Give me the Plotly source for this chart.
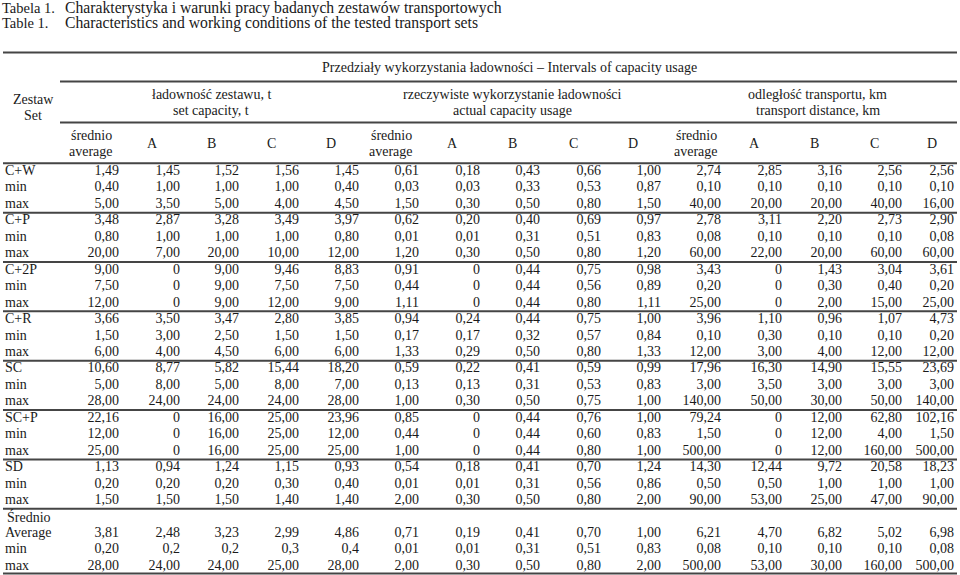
import plotly.graph_objects as go

# row labels (the "Średnio" line sits above the "Average" row)
row_labels = ["C+W", "min", "max", "C+P", "min", "max", "C+2P", "min", "max",
              "C+R", "min", "max", "SC", "min", "max", "SC+P", "min", "max",
              "SD", "min", "max", "Average", "min", "max"]

# ładowność zestawu, t / set capacity, t
cap_avg = ["1,49", "0,40", "5,00", "3,48", "0,80", "20,00", "9,00", "7,50", "12,00",
           "3,66", "1,50", "6,00", "10,60", "5,00", "28,00", "22,16", "12,00", "25,00",
           "1,13", "0,20", "1,50", "3,81", "0,20", "28,00"]
cap_A = ["1,45", "1,00", "3,50", "2,87", "1,00", "7,00", "0", "0", "0",
         "3,50", "3,00", "4,00", "8,77", "8,00", "24,00", "0", "0", "0",
         "0,94", "0,20", "1,50", "2,48", "0,2", "24,00"]
cap_B = ["1,52", "1,00", "5,00", "3,28", "1,00", "20,00", "9,00", "9,00", "9,00",
         "3,47", "2,50", "4,50", "5,82", "5,00", "24,00", "16,00", "16,00", "16,00",
         "1,24", "0,20", "1,50", "3,23", "0,2", "24,00"]
cap_C = ["1,56", "1,00", "4,00", "3,49", "1,00", "10,00", "9,46", "7,50", "12,00",
         "2,80", "1,50", "6,00", "15,44", "8,00", "24,00", "25,00", "25,00", "25,00",
         "1,15", "0,30", "1,40", "2,99", "0,3", "25,00"]
cap_D = ["1,45", "0,40", "4,50", "3,97", "0,80", "12,00", "8,83", "7,50", "9,00",
         "3,85", "1,50", "6,00", "18,20", "7,00", "28,00", "23,96", "12,00", "25,00",
         "0,93", "0,40", "1,40", "4,86", "0,4", "28,00"]

# rzeczywiste wykorzystanie ładowności / actual capacity usage
use_avg = ["0,61", "0,03", "1,50", "0,62", "0,01", "1,20", "0,91", "0,44", "1,11",
           "0,94", "0,17", "1,33", "0,59", "0,13", "1,00", "0,85", "0,44", "1,00",
           "0,54", "0,01", "2,00", "0,71", "0,01", "2,00"]
use_A = ["0,18", "0,03", "0,30", "0,20", "0,01", "0,30", "0", "0", "0",
         "0,24", "0,17", "0,29", "0,22", "0,13", "0,30", "0", "0", "0",
         "0,18", "0,01", "0,30", "0,19", "0,01", "0,30"]
use_B = ["0,43", "0,33", "0,50", "0,40", "0,31", "0,50", "0,44", "0,44", "0,44",
         "0,44", "0,32", "0,50", "0,41", "0,31", "0,50", "0,44", "0,44", "0,44",
         "0,41", "0,31", "0,50", "0,41", "0,31", "0,50"]
use_C = ["0,66", "0,53", "0,80", "0,69", "0,51", "0,80", "0,75", "0,56", "0,80",
         "0,75", "0,57", "0,80", "0,59", "0,53", "0,75", "0,76", "0,60", "0,80",
         "0,70", "0,56", "0,80", "0,70", "0,51", "0,80"]
use_D = ["1,00", "0,87", "1,50", "0,97", "0,83", "1,20", "0,98", "0,89", "1,11",
         "1,00", "0,84", "1,33", "0,99", "0,83", "1,00", "1,00", "0,83", "1,00",
         "1,24", "0,86", "2,00", "1,00", "0,83", "2,00"]

# odległość transportu, km / transport distance, km
dist_avg = ["2,74", "0,10", "40,00", "2,78", "0,08", "60,00", "3,43", "0,20", "25,00",
            "3,96", "0,10", "12,00", "17,96", "3,00", "140,00", "79,24", "1,50", "500,00",
            "14,30", "0,50", "90,00", "6,21", "0,08", "500,00"]
dist_A = ["2,85", "0,10", "20,00", "3,11", "0,10", "22,00", "0", "0", "0",
          "1,10", "0,30", "3,00", "16,30", "3,50", "50,00", "0", "0", "0",
          "12,44", "0,50", "53,00", "4,70", "0,10", "53,00"]
dist_B = ["3,16", "0,10", "20,00", "2,20", "0,10", "20,00", "1,43", "0,30", "2,00",
          "0,96", "0,10", "4,00", "14,90", "3,00", "30,00", "12,00", "12,00", "12,00",
          "9,72", "1,00", "25,00", "6,82", "0,10", "30,00"]
dist_C = ["2,56", "0,10", "40,00", "2,73", "0,10", "60,00", "3,04", "0,40", "15,00",
          "1,07", "0,10", "12,00", "15,55", "3,00", "50,00", "62,80", "4,00", "160,00",
          "20,58", "1,00", "47,00", "5,02", "0,10", "160,00"]
dist_D = ["2,56", "0,10", "16,00", "2,90", "0,08", "60,00", "3,61", "0,20", "25,00",
          "4,73", "0,20", "12,00", "23,69", "3,00", "140,00", "102,16", "1,50", "500,00",
          "18,23", "1,00", "90,00", "6,98", "0,08", "500,00"]

sub_headers = ["A", "B", "C", "D"]

columns = [cap_avg, cap_A, cap_B, cap_C, cap_D,
           use_avg, use_A, use_B, use_C, use_D,
           dist_avg, dist_A, dist_B, dist_C, dist_D]

# layout of the table (pixels)
W, H = 960, 575
col_right = [119, 180, 239, 299, 359, 419, 480, 540, 601, 661, 721, 782, 842, 902, 954]
row0, pitch = 171.5, 16.45
font = "Liberation Serif, Times New Roman, serif"
ink = "#1a1a1a"
rule = "#454545"


def row_pos(i):
    # the label "Średnio" takes its own line before the last group
    return i if i < 21 else i + 1


def row_y(p):
    return row0 + pitch * p


fig = go.Figure()

ys = [row_y(row_pos(i)) for i in range(len(row_labels))]
fig.add_trace(go.Scatter(x=[5] * len(row_labels), y=ys, text=row_labels, mode="text",
                         textposition="middle right",
                         textfont=dict(family=font, size=14, color=ink),
                         hoverinfo="skip", showlegend=False))
for xr, col in zip(col_right, columns):
    fig.add_trace(go.Scatter(x=[xr] * len(col), y=ys, text=col, mode="text",
                             textposition="middle left",
                             textfont=dict(family=font, size=14, color=ink),
                             hoverinfo="skip", showlegend=False))

ann = []


def txt(x, y, s, anchor="center", size=14):
    ann.append(dict(x=x, y=y, text=s, showarrow=False, xanchor=anchor, yanchor="middle",
                    font=dict(family=font, size=size, color=ink)))


txt(0, 8, "Tabela 1.", "left", 14.5)
txt(63, 8, "Charakterystyka i warunki pracy badanych zestawów transportowych", "left", 15.7)
txt(0, 23, "Table 1.", "left", 14.5)
txt(63, 23, "Characteristics and working conditions of the tested transport sets", "left", 15.7)
txt(5, row_y(21), "Średnio", "left")

txt(33, 99, "Zestaw")
txt(33, 115, "Set")
txt(509, 67, "Przedziały wykorzystania ładowności – Intervals of capacity usage")
group_titles = [("ładowność zestawu, t", "set capacity, t"),
                ("rzeczywiste wykorzystanie ładowności", "actual capacity usage"),
                ("odległość transportu, km", "transport distance, km")]
for g, (pl, en) in enumerate(group_titles):
    cx = (col_right[5 * g] + col_right[5 * g + 4]) / 2 - 28
    if g == 2:
        cx += 8
    txt(cx, 94, pl)
    txt(cx, 110, en)
    off = 28 if g < 2 else 25
    txt(col_right[5 * g] - off, 135, "średnio")
    txt(col_right[5 * g] - off, 151, "average")
    for k, lab in enumerate(sub_headers):
        xr = col_right[5 * g + 1 + k]
        txt(xr - (28 if xr < 950 else 22), 143, lab)

shapes = []


def hline(x0, x1, y):
    shapes.append(dict(type="line", xref="x", yref="y", x0=x0, x1=x1, y0=y, y1=y,
                       line=dict(color=rule, width=2)))


hline(3, 957, 52.5)
hline(60, 957, 81.5)
hline(60, 957, 122.5)
hline(3, 957, row_y(-0.5))
for g in range(1, 8):
    hline(3, 957, row_y(3 * g - 0.5))
hline(3, 957, min(row_y(24.5), H - 1.5))

fig.update_layout(width=W, height=H, margin=dict(l=0, r=0, t=0, b=0),
                  paper_bgcolor="white", plot_bgcolor="white",
                  annotations=ann, shapes=shapes,
                  xaxis=dict(range=[0, W], visible=False, fixedrange=True),
                  yaxis=dict(range=[H, 0], visible=False, fixedrange=True))
# the page's default body margin would push the table 8px off
fig.write_html("out.html", config={"displayModeBar": False},
               post_script="document.body.style.margin='0';document.body.style.overflow='hidden';")
